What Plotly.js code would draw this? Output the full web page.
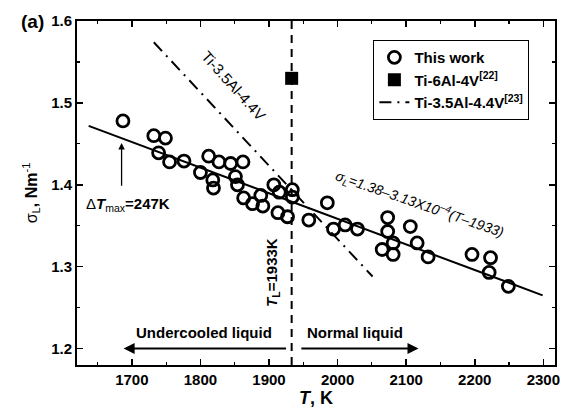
<!DOCTYPE html>
<html>
<head>
<meta charset="utf-8">
<script src="https://cdn.plot.ly/plotly-3.0.1.min.js"></script>
<style>html,body{margin:0;padding:0;background:#fff;}#chart{width:562px;height:411px;}</style>
</head>
<body>
<div id="chart"></div>
<script>
// "This work" measurements: temperature (K) and surface tension (N/m)
const workT = [1687,1732,1749,1739,1755,1776,1800,1812,1827,1818,1819,1844,1862,1851,1854,1863,1876,1888,1891,1907,1915,1934,1934,1913,1927,1958,1985,1994,2011,2029,2073,2073,2081,2065,2081,2106,2116,2132,2196,2223,2221,2249];
const workSigma = [1.478,1.460,1.457,1.439,1.428,1.429,1.415,1.435,1.428,1.406,1.396,1.426,1.428,1.410,1.400,1.384,1.377,1.387,1.374,1.400,1.391,1.394,1.385,1.366,1.361,1.357,1.378,1.346,1.351,1.346,1.360,1.343,1.329,1.321,1.315,1.349,1.329,1.312,1.315,1.311,1.293,1.276];
// Ti-6Al-4V [22]
const ti64T = [1933];
const ti64Sigma = [1.53];
// Ti-3.5Al-4.4V [23] line
const ti35T = [1732, 2051];
const ti35Sigma = [1.574, 1.288];
// Linear fit of this work
const fitT = [1637, 2299];
const fitSigma = [1.472, 1.265];
// Liquidus temperature marker
const liqT = [1933, 1933];
const liqSigma = [1.18, 1.6];

const xTickVals = [1700,1800,1900,2000,2100,2200,2300];
const yTickVals = [1.2,1.3,1.4,1.5,1.6];

const FONT = 'Liberation Sans, Arial, sans-serif';

const traces = [
  {x: liqT, y: liqSigma, mode:'lines', line:{color:'#000', width:2, dash:'8px,6px'}, showlegend:false, hoverinfo:'skip'},
  {x: fitT, y: fitSigma, mode:'lines', line:{color:'#000', width:2}, showlegend:false, hoverinfo:'skip'},
  {x: workT, y: workSigma, mode:'markers', name:'This work',
   marker:{symbol:'circle-open', size:12, color:'#000', line:{color:'#000', width:2.8}}},
  {x: ti64T, y: ti64Sigma, mode:'markers', name:'Ti-6Al-4V<sup>[22]</sup>',
   marker:{symbol:'square', size:13, color:'#000'}},
  {x: ti35T, y: ti35Sigma, mode:'lines', name:'Ti-3.5Al-4.4V<sup>[23]</sup>',
   line:{color:'#000', width:2, dash:'12px,6px,2px,6px'}}
];

const axisCommon = {
  showline:true, linecolor:'#000', linewidth:2, mirror:'allticks',
  ticks:'inside', ticklen:6, tickwidth:1.5, tickcolor:'#000',
  showgrid:false, zeroline:false,
  tickfont:{family:FONT, size:15, color:'#000', weight:'bold'}
};

const layout = {
  width:562, height:411,
  margin:{l:77, r:7, t:21, b:46},
  paper_bgcolor:'#fff', plot_bgcolor:'#fff',
  font:{family:FONT, color:'#000'},
  xaxis: Object.assign({}, axisCommon, {
    range:[1620, 2317], tickvals:xTickVals, ticktext:xTickVals.map(String),
    minor:{ticks:'inside', dtick:50, tick0:1650, ticklen:3, tickwidth:1.2, tickcolor:'#000'},
    title:{text:'<b><i>T</i>, K</b>', font:{family:FONT, size:18, color:'#000'}, standoff:4}
  }),
  yaxis: Object.assign({}, axisCommon, {
    range:[1.18, 1.6], tickvals:yTickVals, ticktext:yTickVals.map(v=>v.toFixed(1)),
    minor:{ticks:'inside', dtick:0.05, tick0:1.15, ticklen:3, tickwidth:1.2, tickcolor:'#000'},
    title:{text:'σ<sub>L</sub><b>, Nm</b><sup>-1</sup>', font:{family:FONT, size:16, color:'#000'}, standoff:10}
  }),
  legend:{x:0.946, y:0.945, xanchor:'right', yanchor:'top',
    bgcolor:'#fff', bordercolor:'#000', borderwidth:1.2,
    font:{family:FONT, size:15, color:'#000', weight:'bold'}, tracegroupgap:0, itemwidth:30},
  annotations:[
    {xref:'paper', yref:'paper', x:-0.122, y:1.0, xanchor:'left', yanchor:'middle', showarrow:false,
     text:'<b>(a)</b>', font:{family:FONT, size:19, color:'#000'}},
    {x:1848, y:1.521, xref:'x', yref:'y', showarrow:false, textangle:48,
     text:'Ti-3.5Al-4.4V', font:{family:FONT, size:15, color:'#000'}},
    {x:2120, y:1.376, xref:'x', yref:'y', showarrow:false, textangle:19,
     text:'<i>σ<sub>L</sub>=1.38–3.13X10<sup>–4</sup>(T–1933)</i>', font:{family:FONT, size:14, color:'#000'}},
    {x:1695, y:1.376, xref:'x', yref:'y', showarrow:false,
     text:'Δ<b><i>T</i></b><sub>max</sub><b>=247K</b>', font:{family:FONT, size:15, color:'#000'}},
    {x:1685, y:1.451, ax:1685, ay:1.397, xref:'x', yref:'y', axref:'x', ayref:'y',
     showarrow:true, arrowhead:2, arrowsize:1, arrowwidth:1.3, arrowcolor:'#000', text:''},
    {x:1905, y:1.293, xref:'x', yref:'y', showarrow:false, textangle:-90,
     text:'<b><i>T</i><sub>L</sub>=1933K</b>', font:{family:FONT, size:15, color:'#000'}},
    {x:1805, y:1.2195, xref:'x', yref:'y', showarrow:false,
     text:'<b>Undercooled liquid</b>', font:{family:FONT, size:15, color:'#000'}},
    {x:2026, y:1.2195, xref:'x', yref:'y', showarrow:false,
     text:'<b>Normal liquid</b>', font:{family:FONT, size:15, color:'#000'}},
    {x:1688, y:1.2, ax:1927, ay:1.2, xref:'x', yref:'y', axref:'x', ayref:'y',
     showarrow:true, arrowhead:2, arrowsize:1.1, arrowwidth:2, arrowcolor:'#000', text:''},
    {x:2118, y:1.2, ax:1945, ay:1.2, xref:'x', yref:'y', axref:'x', ayref:'y',
     showarrow:true, arrowhead:2, arrowsize:1.1, arrowwidth:2, arrowcolor:'#000', text:''}
  ]
};

Plotly.newPlot('chart', traces, layout, {displayModeBar:false, staticPlot:true});
</script>
</body>
</html>
